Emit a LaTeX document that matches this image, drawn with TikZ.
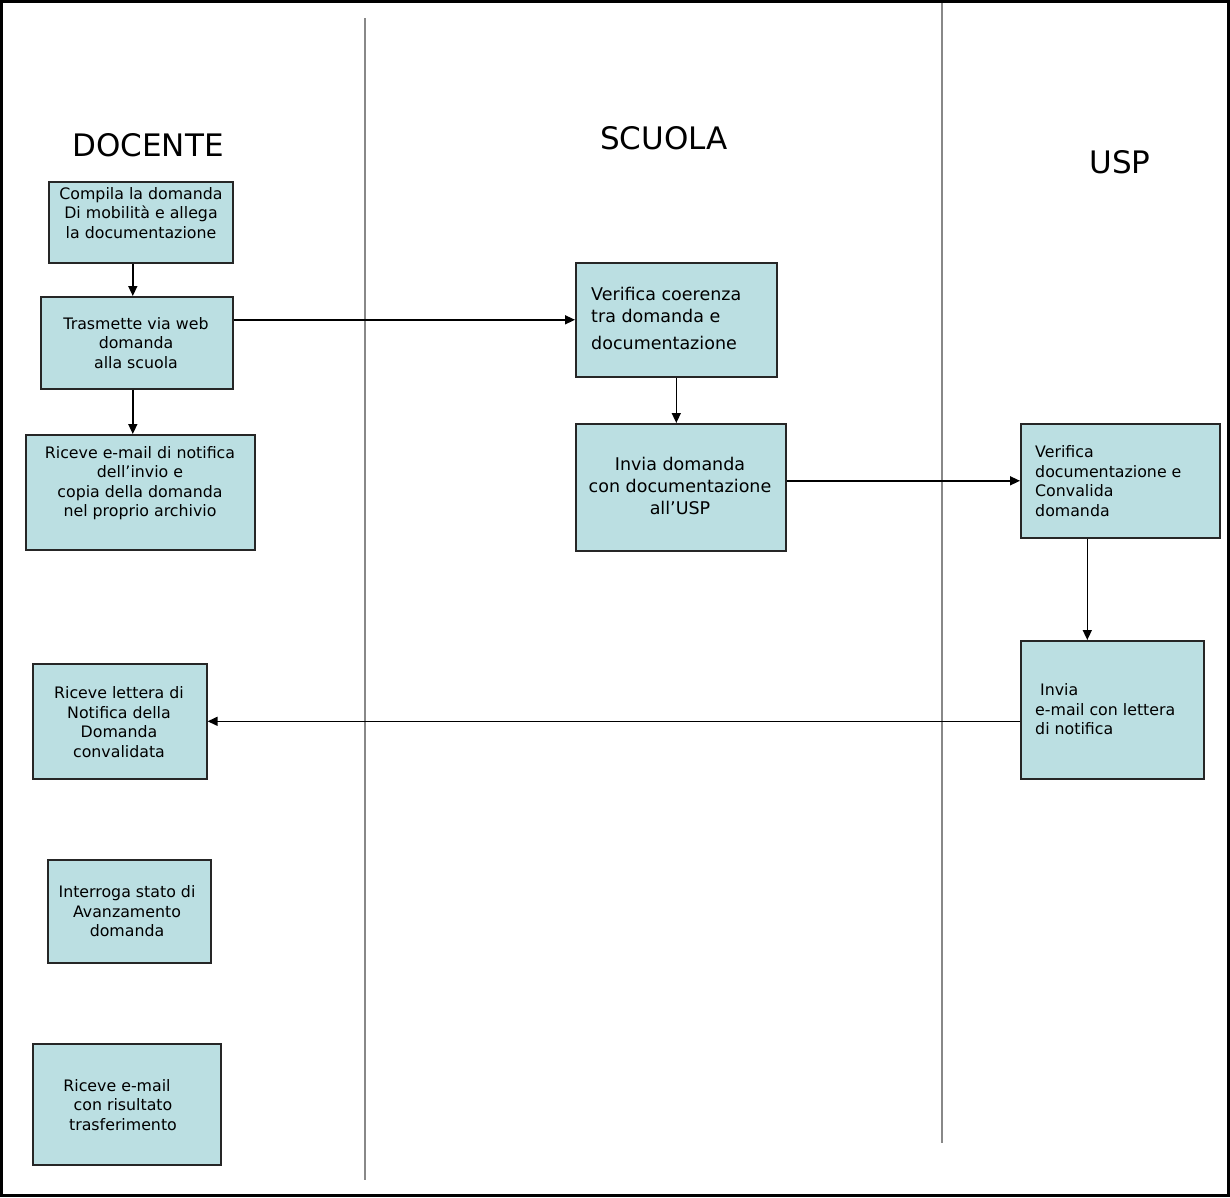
\documentclass[tikz,border=0pt]{standalone}
\usepackage{fontspec}
\setmainfont{DejaVu Sans}
\usetikzlibrary{arrows.meta,calc}
\definecolor{boxfill}{RGB}{187,223,226}
\definecolor{lanegray}{RGB}{136,136,136}
\tikzset{
  box/.style={draw=black!85,line width=1.6pt,fill=boxfill,inner sep=0pt,anchor=north west},
  txt/.style={inner sep=0pt,font=\fontsize{15.8}{19.5}\selectfont},
  txtbig/.style={inner sep=0pt,font=\fontsize{17.5}{22}\selectfont},
  title/.style={inner sep=0pt,font=\fontsize{31}{36}\selectfont},
  arr/.style={line width=1.5pt,-{Triangle[width=9pt,length=10pt]}},
  lane/.style={draw=lanegray,line width=2pt}
}
\begin{document}
\begin{tikzpicture}[x=1pt,y=-1pt]
\useasboundingbox (0,0) rectangle (1230,1197);
\draw[line width=3pt] (1.5,1.5) rectangle (1228.5,1195.5);
% lanes
\coordinate (l1t) at (365,18); \coordinate (l1b) at (365,1180);
\coordinate (l2t) at (942,3); \coordinate (l2b) at (942,1143);
\draw[lane] (l1t) -- (l1b);
\draw[lane] (l2t) -- (l2b);
% titles
\node[title] (tdoc) at (148,145) {DOCENTE};
\node[title] (tsc) at (664,138) {SCUOLA};
\node[title] (tusp) at (1120,162) {USP};
% boxes (pixel coords)
\node[box,minimum width=184,minimum height=81] (compila) at (48,181) {};
\node[box,minimum width=192,minimum height=92] (trasm) at (40,296) {};
\node[box,minimum width=229,minimum height=115] (ricmail) at (25,434) {};
\node[box,minimum width=174,minimum height=115] (lettera) at (32,663) {};
\node[box,minimum width=163,minimum height=103] (interr) at (47,859) {};
\node[box,minimum width=188,minimum height=121] (risult) at (32,1043) {};
\node[box,minimum width=201,minimum height=114] (vercoer) at (575,262) {};
\node[box,minimum width=210,minimum height=127] (invia) at (575,423) {};
\node[box,minimum width=199,minimum height=114] (verdoc) at (1020,423) {};
\node[box,minimum width=183,minimum height=138] (email) at (1020,640) {};
% texts
\node[txt,align=center] (t1) at (141,213) {Compila la domanda\\Di mobilità e allega\\la documentazione};
\node[txt,align=center] (t2) at (136,343) {Trasmette via web\\domanda\\alla scuola};
\node[txt,align=center] (t3) at (140,483) {Riceve e-mail di notifica\\dell’invio e\\copia della domanda\\nel proprio archivio};
\node[txt,align=center] (t4) at (119,722) {Riceve lettera di\\Notifica della\\Domanda\\convalidata};
\node[txt,align=center] (t5) at (127,911.5) {Interroga stato di\\Avanzamento\\domanda};
\node[txt,align=center] (t6) at (123,1105) {Riceve e-mail\hspace*{12pt}\\con risultato\\trasferimento};
\node[txtbig,align=left,anchor=west] (t7) at (591,318) {Verifica coerenza\\tra domanda e\\[5pt]documentazione};
\node[txtbig,align=center] (t8) at (680,486) {Invia domanda\\con documentazione\\all’USP};
\node[txt,align=left,anchor=west] (t9) at (1035,481) {Verifica\\documentazione e\\Convalida\\domanda};
\node[txt,align=left,anchor=west] (t10) at (1035,709.5) {\hspace*{5pt}Invia\\e-mail con lettera\\di notifica};
% connectors
\draw[arr] ([xshift=-8]compila.south) -- ([xshift=-8]compila.south |- trasm.north);
\draw[arr] ([xshift=-4]trasm.south) -- ([xshift=-4]trasm.south |- ricmail.north);
\draw[arr] (trasm.east |- vercoer.west) -- (vercoer.west);
\draw[arr] (vercoer.south) -- (vercoer.south |- invia.north);
\draw[arr] (invia.east |- verdoc.west) -- (verdoc.west);
\draw[arr] ([xshift=-33]verdoc.south) -- ([xshift=-33]verdoc.south |- email.north);
\draw[arr] (email.west |- lettera.east) -- (lettera.east);
\end{tikzpicture}
\end{document}
